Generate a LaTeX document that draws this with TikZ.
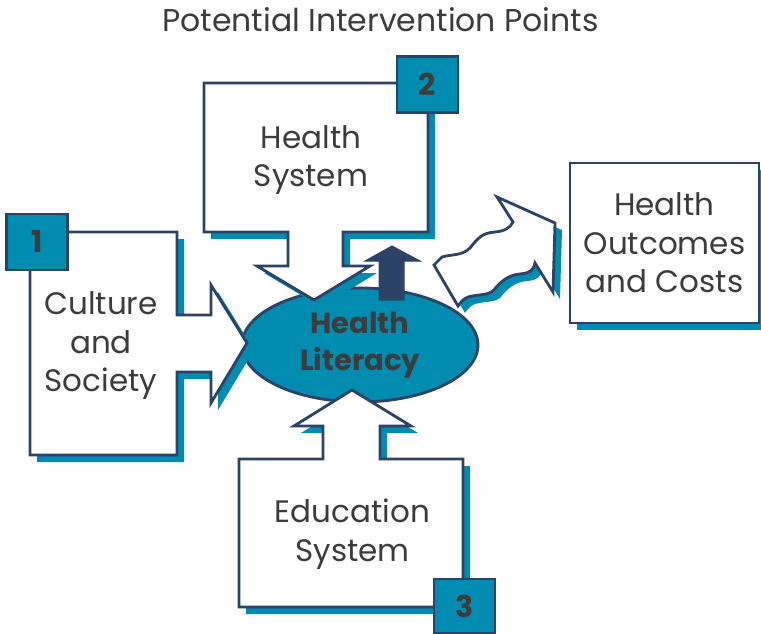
\documentclass[tikz,border=0pt]{standalone}
\usepackage{fontspec}
\setmainfont{Poppins}
\usetikzlibrary{shapes,positioning}
\definecolor{penColor}{RGB}{44,66,102}
\definecolor{fill1}{RGB}{0,139,176}
\definecolor{textColor}{RGB}{60,60,60}
\tikzset{
  blockarrow/.style={draw=penColor,line width=2.8pt,fill=white,
    preaction={fill=fill1,transform canvas={shift={(7pt,-7pt)}}}},
  numbox/.style={draw=penColor,line width=2.8pt,fill=fill1,inner sep=0pt,
    minimum width=61pt,minimum height=56pt,text=textColor,
    font=\fontsize{30}{30}\selectfont\bfseries},
  boxtext/.style={align=center,inner sep=0pt,text=textColor,
    font=\fontsize{31}{38.5}\selectfont},
}
\begin{document}
\begin{tikzpicture}[x=1pt,y=-1pt,line join=miter]
    \useasboundingbox (0,0) rectangle (761,634);
    \node[anchor=base,text=textColor,font=\fontsize{31.5}{31.5}\selectfont] (title)
      at (380.5,32) {Potential Intervention Points};

    \node[ellipse,draw=penColor,line width=2.8pt,fill=fill1,inner sep=0pt,
      minimum width=236pt,minimum height=114pt,align=center,text=textColor,
      font=\fontsize{29}{37}\selectfont\bfseries] (lit) at (360,345) {Health\\Literacy};

    \draw[blockarrow] (30,232) -- (177,232) -- (177,315) -- (211,315) -- (211,285)
      -- (247,343) -- (211,403) -- (211,372) -- (177,372) -- (177,455) -- (30,455) -- cycle;
    \draw[blockarrow] (204,83) -- (428,83) -- (428,232) -- (343,232) -- (343,266) -- (370,266)
      -- (314,300) -- (257,266) -- (288,266) -- (288,232) -- (204,232) -- cycle;
    \draw[blockarrow] (352,390) -- (411,426) -- (380,426) -- (380,459) -- (463,459) -- (463,607)
      -- (239,607) -- (239,459) -- (323,459) -- (323,426) -- (294,426) -- cycle;

    % wavy arrow to the outcomes
    \draw[blockarrow] (434,265) -- (442,257) .. controls (452,254) and (462,256) .. (470,248)
      .. controls (478,238) and (482,233) .. (495,232) .. controls (505,231) and (510,228) .. (513,222)
      -- (497,197) -- (555,223) -- (553,292) -- (535,263)
      .. controls (533,271) and (530,273) .. (520,274) .. controls (508,275) and (500,282) .. (494,290)
      .. controls (488,296) and (478,294) .. (468,297) .. controls (463,299) and (461,302) .. (458,306)
      -- cycle;
    \node[blockarrow,minimum width=189pt,minimum height=160pt,inner sep=0pt,boxtext]
      (outcomes) at (664.5,243) {Health\\Outcomes\\and Costs};

    \draw[penColor,fill=penColor,line width=1pt] (379,300) -- (379,261) -- (365,261) -- (392,246)
      -- (420,261) -- (404,261) -- (404,300) -- cycle;

    \node[numbox] (n1) at (37,242) {1};
    \node[numbox] (n2) at (427.5,84.5) {2};
    \node[numbox,minimum height=54pt] (n3) at (464.5,606) {3};

    \node[boxtext] (culture) at (101,346) {Culture\\and\\Society};
    \node[boxtext] (hsys) at (311,160) {Health\\System};
    \node[boxtext] (edu) at (352.5,534) {Education\\System};
  \end{tikzpicture}
\end{document}
